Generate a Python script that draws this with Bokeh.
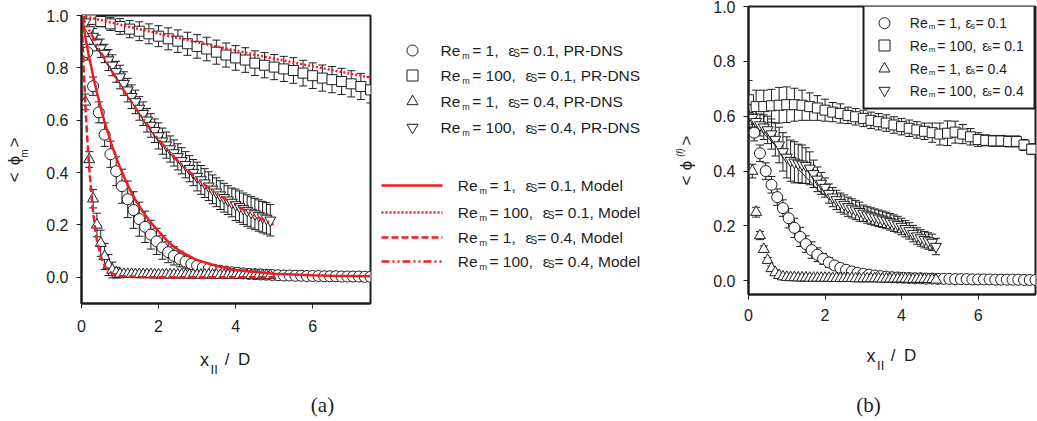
from math import pi

from bokeh.core.properties import value
from bokeh.embed import file_html
from bokeh.layouts import column, row
from bokeh.models import (ColumnDataSource, FixedTicker, PrintfTickFormatter,
                          Range1d, TeeHead, Whisker)
from bokeh.plotting import figure
from bokeh.resources import INLINE

SANS = "Liberation Sans"
SERIF = "Liberation Serif"
INK = "#1e1e1e"
RED = "#ee1d23"

# ---------------- sampling positions (x_|| / D) ----------------
x_circ = [0.0, 0.15, 0.3, 0.45, 0.6, 0.75, 0.9, 1.05, 1.2, 1.35, 1.5, 1.65, 1.8, 1.95,
          2.1, 2.25, 2.4, 2.55, 2.7, 2.85, 3.0, 3.15, 3.3, 3.45, 3.6, 3.75, 3.9, 4.05,
          4.2, 4.35, 4.5, 4.65, 4.8, 4.95, 5.1, 5.25, 5.4, 5.55, 5.7, 5.85, 6.0, 6.15,
          6.3, 6.45, 6.6, 6.75, 6.9, 7.05, 7.2, 7.35, 7.5]
x_tri = [0.0, 0.1, 0.2, 0.3, 0.4, 0.5, 0.6, 0.7, 0.8, 0.9, 1.0, 1.1, 1.2, 1.3, 1.4,
         1.5, 1.6, 1.7, 1.8, 1.9, 2.0, 2.1, 2.2, 2.3, 2.4, 2.5, 2.6, 2.7, 2.8, 2.9,
         3.0, 3.1, 3.2, 3.3, 3.4, 3.5, 3.6, 3.7, 3.8, 3.9, 4.0, 4.1, 4.2, 4.3, 4.4,
         4.5, 4.6, 4.7, 4.8, 4.9]
x_sq_a = [0.0, 0.25, 0.5, 0.75, 1.0, 1.25, 1.5, 1.75, 2.0, 2.25, 2.5, 2.75, 3.0, 3.25,
          3.5, 3.75, 4.0, 4.25, 4.5, 4.75, 5.0, 5.25, 5.5, 5.75, 6.0, 6.25, 6.5, 6.75,
          7.0, 7.25, 7.5]
x_sq_b = [0.0, 0.2, 0.4, 0.6, 0.8, 1.0, 1.2, 1.4, 1.6, 1.8, 2.0, 2.2, 2.4, 2.6, 2.8,
          3.0, 3.2, 3.4, 3.6, 3.8, 4.0, 4.2, 4.4, 4.6, 4.8, 5.0, 5.2, 5.4, 5.6, 5.8,
          6.0, 6.2, 6.4, 6.6, 6.8, 7.0, 7.2, 7.4]

# ---------------- (a) <phi_m>, PR-DNS ----------------
circ_a = [1.0, 0.86, 0.73, 0.63, 0.545, 0.47, 0.405, 0.348, 0.298, 0.257, 0.222, 0.193,
          0.163, 0.137, 0.114, 0.096, 0.082, 0.07, 0.06, 0.051, 0.044, 0.038, 0.033,
          0.029, 0.025, 0.022, 0.019, 0.017, 0.015, 0.013, 0.012, 0.011, 0.01, 0.009,
          0.008, 0.007, 0.007, 0.006, 0.006, 0.005, 0.005, 0.005, 0.004, 0.004, 0.004,
          0.003, 0.003, 0.003, 0.003, 0.002, 0.002]
circ_a_err = [0.0, 0.03, 0.035, 0.04, 0.045, 0.05, 0.055, 0.065, 0.07, 0.07, 0.065, 0.06,
              0.055, 0.05, 0.045, 0.04, 0.035, 0.03, 0.025, 0.02, 0.018, 0.015, 0.012,
              0.01, 0.008, 0.007, 0.006, 0.005, 0.005, 0.004, 0.003, 0.003, 0.003, 0.003,
              0.003, 0.003, 0.003, 0.003, 0.003, 0.003, 0.003, 0.003, 0.003, 0.003,
              0.003, 0.003, 0.003, 0.003, 0.003, 0.003, 0.003]
sq_a = [1.0, 0.985, 0.977, 0.968, 0.958, 0.948, 0.94, 0.93, 0.921, 0.911, 0.902, 0.892,
        0.882, 0.872, 0.86, 0.849, 0.838, 0.83, 0.818, 0.81, 0.803, 0.796, 0.79, 0.78,
        0.77, 0.761, 0.755, 0.748, 0.739, 0.729, 0.716]
sq_a_err = [0.0, 0.012, 0.02, 0.025, 0.03, 0.033, 0.036, 0.038, 0.04, 0.042, 0.043,
            0.044, 0.045, 0.045, 0.046, 0.046, 0.047, 0.047, 0.047, 0.048, 0.048, 0.048,
            0.049, 0.049, 0.049, 0.05, 0.05, 0.05, 0.05, 0.05, 0.05]
tri_a = [1.0, 0.67, 0.45, 0.30, 0.20, 0.13, 0.08, 0.047, 0.028, 0.018, 0.013, 0.012,
         0.012, 0.012, 0.011, 0.011, 0.011, 0.011, 0.011, 0.01, 0.01, 0.01, 0.01, 0.01,
         0.01, 0.01, 0.01, 0.009, 0.009, 0.009, 0.009, 0.009, 0.009, 0.009, 0.009,
         0.009, 0.008, 0.008, 0.008, 0.008, 0.008, 0.008, 0.008, 0.008, 0.008, 0.008,
         0.008, 0.007, 0.007, 0.007]
tri_a_err = [0.0, 0.03, 0.03, 0.035, 0.045, 0.05, 0.05, 0.04, 0.03, 0.02, 0.015, 0.01,
             0.005, 0.005, 0.005, 0.005, 0.005, 0.005, 0.005, 0.005, 0.005, 0.005, 0.005,
             0.005, 0.005, 0.005, 0.005, 0.005, 0.005, 0.005, 0.005, 0.005, 0.005, 0.005,
             0.005, 0.005, 0.005, 0.005, 0.005, 0.005, 0.005, 0.005, 0.005, 0.005, 0.005,
             0.005, 0.005, 0.005, 0.005, 0.005]
nab_a = [1.0, 0.975, 0.945, 0.92, 0.895, 0.875, 0.855, 0.83, 0.81, 0.785, 0.765, 0.74,
         0.715, 0.69, 0.67, 0.645, 0.625, 0.6, 0.58, 0.56, 0.54, 0.52, 0.505, 0.49, 0.475,
         0.46, 0.445, 0.43, 0.415, 0.4, 0.385, 0.372, 0.36, 0.348, 0.336, 0.325, 0.314,
         0.304, 0.295, 0.286, 0.277, 0.27, 0.262, 0.255, 0.248, 0.242, 0.236, 0.23,
         0.225, 0.218]
nab_a_err = [0.0, 0.02, 0.025, 0.03, 0.03, 0.035, 0.035, 0.04, 0.04, 0.04,
             0.045, 0.045, 0.045, 0.045, 0.045, 0.045, 0.045, 0.045, 0.045, 0.045,
             0.05, 0.05, 0.05, 0.05, 0.05, 0.05, 0.05, 0.05, 0.05, 0.05,
             0.055, 0.055, 0.055, 0.055, 0.055, 0.055, 0.055, 0.055, 0.055, 0.055,
             0.06, 0.06, 0.06, 0.06, 0.06, 0.06, 0.06, 0.06, 0.06, 0.06]
nab_a_trace_x = [0.0, 1.0, 2.0, 3.0, 4.0, 4.9]
nab_a_trace_y = [1.0, 0.76, 0.525, 0.385, 0.285, 0.22]

# ---------------- (a) model curves ----------------
m1_x = [0.0, 0.1, 0.2, 0.3, 0.4, 0.5, 0.6, 0.8, 1.0, 1.2, 1.4, 1.6, 1.8, 2.0, 2.3, 2.6,
        3.0, 3.5, 4.0, 4.5, 5.0, 5.5, 6.0, 6.5, 7.0, 7.5]
m1_y = [1.0, 0.917, 0.84, 0.77, 0.706, 0.647, 0.593, 0.498, 0.419, 0.352, 0.296, 0.249,
        0.209, 0.176, 0.128, 0.096, 0.066, 0.043, 0.028, 0.02, 0.014, 0.011, 0.008,
        0.006, 0.005, 0.004]
m2_x = [0.0, 1.0, 2.0, 3.0, 4.0, 5.0, 6.0, 7.0, 7.5]
m2_y = [1.0, 0.965, 0.931, 0.898, 0.866, 0.835, 0.806, 0.777, 0.763]
m3_x = [0.0, 0.05, 0.1, 0.15, 0.2, 0.25, 0.3, 0.35, 0.4, 0.5, 0.6, 0.7, 0.8, 1.0, 1.5,
        2.0, 3.0, 4.0, 5.0]
m3_y = [1.0, 0.82, 0.66, 0.53, 0.42, 0.33, 0.25, 0.19, 0.14, 0.08, 0.045, 0.025, 0.014,
        0.005, 0.001, 0.0, 0.0, 0.0, 0.0]
m4_x = [0.0, 0.5, 1.0, 1.5, 2.0, 2.5, 3.0, 3.5, 4.0, 4.5, 5.0]
m4_y = [1.0, 0.86, 0.735, 0.625, 0.525, 0.445, 0.375, 0.32, 0.275, 0.235, 0.2]

# ---------------- (b) <phi^(f)>, PR-DNS ----------------
circ_b = [0.63, 0.54, 0.465, 0.40, 0.35, 0.305, 0.265, 0.228, 0.193, 0.16, 0.134, 0.112,
          0.095, 0.08, 0.067, 0.056, 0.047, 0.04, 0.034, 0.029, 0.025, 0.022, 0.019,
          0.017, 0.015, 0.013, 0.012, 0.011, 0.01, 0.009, 0.009, 0.008, 0.008, 0.007,
          0.007, 0.007, 0.006, 0.006, 0.006, 0.005, 0.005, 0.005, 0.005, 0.004, 0.004,
          0.004, 0.004, 0.004, 0.003, 0.003, 0.003]
circ_b_err = [0.02, 0.03, 0.03, 0.03, 0.03, 0.03, 0.03, 0.035, 0.035, 0.035, 0.03, 0.03,
              0.025, 0.02, 0.018, 0.015, 0.012, 0.01, 0.008, 0.006, 0.004, 0.004, 0.004,
              0.004, 0.004, 0.004, 0.004, 0.004, 0.004, 0.004, 0.004, 0.004, 0.004,
              0.004, 0.004, 0.004, 0.004, 0.004, 0.004, 0.004, 0.004, 0.004, 0.004,
              0.004, 0.004, 0.004, 0.004, 0.004, 0.004, 0.004, 0.004]
sq_b = [0.66, 0.635, 0.635, 0.638, 0.64, 0.642, 0.642, 0.64, 0.635, 0.63, 0.622, 0.615,
        0.61, 0.603, 0.598, 0.592, 0.585, 0.58, 0.575, 0.568, 0.562, 0.556, 0.55, 0.545,
        0.54, 0.535, 0.538, 0.542, 0.535, 0.525, 0.515, 0.512, 0.51, 0.51, 0.508, 0.508,
        0.495, 0.48]
sq_b_err = [0.07, 0.06, 0.06, 0.06, 0.065, 0.065, 0.06, 0.055, 0.05, 0.045,
            0.04, 0.035, 0.035, 0.03, 0.03, 0.03, 0.03, 0.03, 0.03, 0.03,
            0.03, 0.03, 0.03, 0.03, 0.035, 0.04, 0.045, 0.04, 0.035, 0.03,
            0.025, 0.02, 0.02, 0.02, 0.02, 0.02, 0.02, 0.02]
tri_b = [0.6, 0.4, 0.25, 0.165, 0.115, 0.075, 0.045, 0.03, 0.02, 0.015, 0.013, 0.012,
         0.012, 0.011, 0.011, 0.011, 0.01, 0.01, 0.01, 0.01, 0.01, 0.01, 0.009, 0.009,
         0.009, 0.009, 0.009, 0.009, 0.008, 0.008, 0.008, 0.008, 0.008, 0.008, 0.008,
         0.007, 0.007, 0.007, 0.007, 0.007, 0.007, 0.007, 0.006, 0.006, 0.006, 0.006,
         0.006, 0.005, 0.005, 0.003]
tri_b_err = [0.04, 0.025, 0.018, 0.015, 0.012, 0.01, 0.008, 0.006, 0.005, 0.004,
             0.003, 0.003, 0.003, 0.003, 0.003, 0.003, 0.003, 0.003, 0.003, 0.003,
             0.003, 0.003, 0.003, 0.003, 0.003, 0.003, 0.003, 0.003, 0.003, 0.003,
             0.003, 0.003, 0.003, 0.003, 0.003, 0.003, 0.003, 0.003, 0.003, 0.003,
             0.003, 0.003, 0.003, 0.003, 0.003, 0.003, 0.003, 0.003, 0.003, 0.003]
nab_b = [0.60, 0.595, 0.58, 0.568, 0.56, 0.55, 0.535, 0.515, 0.495, 0.47, 0.45, 0.438,
         0.432, 0.428, 0.425, 0.42, 0.41, 0.39, 0.37, 0.355, 0.34, 0.318, 0.305, 0.295,
         0.285, 0.278, 0.27, 0.264, 0.258, 0.252, 0.246, 0.24, 0.236, 0.232, 0.228,
         0.224, 0.22, 0.215, 0.21, 0.205, 0.198, 0.19, 0.182, 0.172, 0.163, 0.156, 0.15,
         0.145, 0.14, 0.125]
nab_b_err = [0.04, 0.04, 0.04, 0.04, 0.045, 0.05, 0.055, 0.06, 0.065, 0.07,
             0.075, 0.075, 0.075, 0.07, 0.07, 0.065, 0.06, 0.05, 0.045, 0.04,
             0.035, 0.035, 0.035, 0.035, 0.035, 0.035, 0.035, 0.035, 0.035, 0.035,
             0.03, 0.03, 0.03, 0.03, 0.03, 0.03, 0.03, 0.03, 0.03, 0.03,
             0.03, 0.03, 0.03, 0.03, 0.03, 0.03, 0.03, 0.03, 0.03, 0.03]
nab_b_trace_x = [0.0, 1.9, 3.0, 4.0, 4.9]
nab_b_trace_y = [0.595, 0.32, 0.245, 0.195, 0.125]

# ---------------- axes / legend text ----------------
x_ticks = [0, 2, 4, 6]
y_ticks = [0.0, 0.2, 0.4, 0.6, 0.8, 1.0]
leg_re = ["1", "100", "1", "100"]
leg_eps = ["0.1", "0.1", "0.4", "0.4"]
leg_markers = ["circle", "square", "triangle", "inverted_triangle"]
model_dash = ["solid", "2 2", "7 3", "8 3 2 3 2 3"]
marker_size = {"circle": 11, "square": 10, "triangle": 11, "inverted_triangle": 11}


def panel(width, height, left, right, top, bottom, ymin, standoff_x):
    p = figure(width=width, height=height, x_range=Range1d(0, 7.5),
               y_range=Range1d(ymin, 1.0), output_backend="svg", toolbar_location=None,
               min_border_left=left, min_border_right=right,
               min_border_top=top, min_border_bottom=bottom)
    p.grid.visible = False
    p.outline_line_color = INK
    p.outline_line_width = 2
    p.xaxis.ticker = FixedTicker(ticks=x_ticks)
    p.yaxis.ticker = FixedTicker(ticks=y_ticks)
    p.yaxis.formatter = PrintfTickFormatter(format="%.1f")
    p.axis.axis_line_width = 2
    p.axis.axis_line_color = INK
    p.axis.major_tick_in = 0
    p.axis.major_tick_out = 5
    p.axis.major_tick_line_color = INK
    p.axis.minor_tick_line_color = None
    p.axis.major_label_text_font = SANS
    p.axis.major_label_text_font_size = "16px"
    p.axis.major_label_text_color = "#222222"
    p.yaxis.major_label_standoff = 8
    p.xaxis.major_label_standoff = standoff_x
    return p


def strip(x0, x1, y0, y1, width=None, left=0, right=0):
    """Blank figure whose data units are page pixels, used for surrounding text.

    When stacked under a panel, its frame is aligned with that panel's frame, so the
    same side borders are given and the range spans only the frame.
    """
    w = width if width is not None else x1 - x0
    f = figure(width=w, height=y1 - y0, x_range=Range1d(x0, x1),
               y_range=Range1d(y1, y0), output_backend="svg", toolbar_location=None,
               x_axis_type=None, y_axis_type=None, min_border_left=left,
               min_border_right=right, min_border_top=0, min_border_bottom=0)
    f.outline_line_color = None
    f.grid.visible = False
    return f


def series(p, xs, ys, errs, marker):
    lo = [y - e for y, e in zip(ys, errs)]
    hi = [y + e for y, e in zip(ys, errs)]
    src = ColumnDataSource(dict(x=xs, y=ys, lo=lo, hi=hi))
    p.add_layout(Whisker(source=src, base="x", lower="lo", upper="hi",
                         line_color=INK, line_width=1,
                         upper_head=TeeHead(size=8, line_color=INK, line_width=1),
                         lower_head=TeeHead(size=8, line_color=INK, line_width=1)))
    p.scatter("x", "y", source=src, marker=marker, size=marker_size[marker],
              fill_color="white", line_color=INK, line_width=1)


def txt(f, x, y, s, size, angle=0.0, font=SANS, style="normal", align="center"):
    f.text(x=[x], y=[y], text=[s], text_font=value(font), text_font_size=f"{size}px",
           text_font_style=style, text_align=align, text_baseline="middle",
           angle=angle, text_color=INK)


def entry(p, fx, fy, x0, y0, re, eps, tail, fs, subfs, eps_gap, sub_letter, d):
    def t(x, y, s, size):
        p.text(x=[fx(x)], y=[fy(y)], text=[s], text_font=value(SANS),
               text_font_size=f"{size}px", text_align="left", text_baseline="middle",
               text_color=INK)
    t(x0, y0, "Re", fs)
    t(x0 + d[0], y0 + d[1], "m", subfs)
    t(x0 + d[2], y0, f"= {re},", fs)
    ex = x0 + (eps_gap[0] if re == "1" else eps_gap[1])
    t(ex, y0, "\u03b5", fs)
    t(ex + 5, y0 + d[3], sub_letter, subfs + 1)
    t(ex + d[4], y0, f"= {eps}{tail}", fs)


def ident(v):
    return v


# pixel -> data helpers for the legend drawn inside frame (b)
def bx(px): return (px - 748) / 287 * 7.5
def by(py): return 1.0 - (py - 6) / 288 * 1.05


# ======================= panel (a) =======================
ylab_a = strip(0, 30, 0, 421)
txt(ylab_a, 14, 176.7, "<", 17, pi / 2)
txt(ylab_a, 14, 160, "\u03d5", 17, pi / 2)
txt(ylab_a, 24, 153, "m", 10, pi / 2)
txt(ylab_a, 14, 141.7, ">", 17, pi / 2)

pa = panel(342, 340, 51, 2, 15, 37, -0.1, 11)
pa.line(nab_a_trace_x, nab_a_trace_y, line_color=INK, line_width=1)
series(pa, x_circ, circ_a, circ_a_err, "circle")
series(pa, x_sq_a, sq_a, sq_a_err, "square")
series(pa, x_tri, tri_a, tri_a_err, "triangle")
series(pa, x_tri, nab_a, nab_a_err, "inverted_triangle")
for mx, my, dash in [(m1_x, m1_y, model_dash[0]), (m2_x, m2_y, model_dash[1]),
                     (m3_x, m3_y, model_dash[2]), (m4_x, m4_y, model_dash[3])]:
    pa.line(mx, my, line_color=RED, line_width=2.5, line_dash=dash)

xlab_a = strip(81, 370, 340, 421, width=342, left=51, right=2)
txt(xlab_a, 204, 359, "x", 18)
txt(xlab_a, 213.7, 369, "II", 13)
txt(xlab_a, 226.7, 359, "/", 17)
txt(xlab_a, 243.7, 359, "D", 17)
txt(xlab_a, 322, 404, "(a)", 21, font=SERIF)

# ======================= legend of (a) =======================
pl = strip(372, 672, 0, 421)
pr_rows = [50, 75, 101, 127]
for i, yy in enumerate(pr_rows):
    pl.scatter([412], [yy], marker=leg_markers[i], size=11, fill_color="white",
               line_color=INK, line_width=1)
    entry(pl, ident, ident, 440, yy, leg_re[i], leg_eps[i], ", PR-DNS", 15.5, 9,
          (67.7, 85), "S", (21.7, 5, 31.7, 3, 11.7))

model_rows = [185, 212, 237, 261]
for i, yy in enumerate(model_rows):
    pl.line([381, 442], [yy, yy], line_color=RED, line_width=2.5, line_dash=model_dash[i])
    entry(pl, ident, ident, 457.3, yy, leg_re[i], leg_eps[i], ", Model", 15.5, 9,
          (67.7, 85), "S", (21.7, 5, 31.7, 3, 11.7))

# ======================= panel (b) =======================
ylab_b = strip(672, 702, 0, 421)
txt(ylab_b, 686, 180, "<", 17, pi / 2)
txt(ylab_b, 686, 165, "\u03d5", 17, pi / 2)
txt(ylab_b, 679, 152, "(f)", 9, pi / 2, style="italic")
txt(ylab_b, 686, 140, ">", 17, pi / 2)

pb = panel(335, 328, 46, 2, 6, 34, -0.05, 9)
pb.line(nab_b_trace_x, nab_b_trace_y, line_color=INK, line_width=1)
series(pb, x_circ, circ_b, circ_b_err, "circle")
series(pb, x_sq_b, sq_b, sq_b_err, "square")
series(pb, x_tri, tri_b, tri_b_err, "triangle")
series(pb, x_tri, nab_b, nab_b_err, "inverted_triangle")

# boxed legend
pb.quad(left=[bx(863)], right=[bx(1034)], top=[by(5)], bottom=[by(108)],
        fill_color="white", line_color=INK, line_width=2)
b_rows = [22.7, 45, 68.3, 90]
for i, yy in enumerate(b_rows):
    pb.scatter([bx(884)], [by(yy)], marker=leg_markers[i], size=11, fill_color="white",
               line_color=INK, line_width=1)
    entry(pb, bx, by, 909.3, yy, leg_re[i], leg_eps[i], "", 14, 8,
          (55.7, 72.4), "s", (19, 3.5, 27.4, 2.5, 10))

xlab_b = strip(748, 1035, 328, 421, width=335, left=46, right=2)
txt(xlab_b, 870.5, 355, "x", 18)
txt(xlab_b, 880.2, 365, "II", 13)
txt(xlab_b, 892.7, 355, "/", 17)
txt(xlab_b, 909.7, 355, "D", 17)
txt(xlab_b, 868, 404, "(b)", 21, font=SERIF)

layout = row(ylab_a, column(pa, xlab_a), pl, ylab_b, column(pb, xlab_b))
open("out.html", "w").write(file_html(layout, INLINE))
